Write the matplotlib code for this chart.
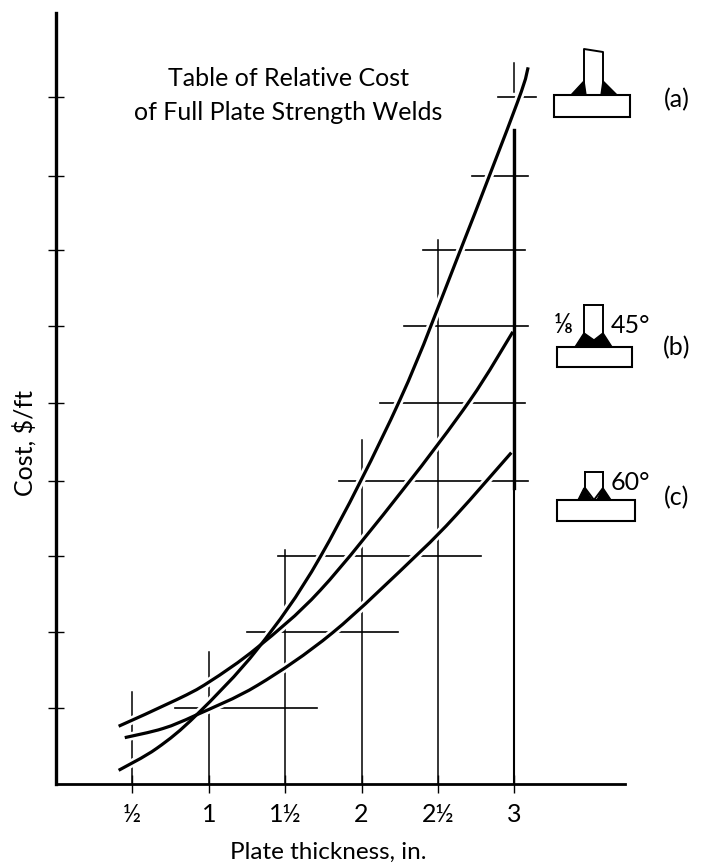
import matplotlib
matplotlib.use("Agg")
import matplotlib.pyplot as plt
from matplotlib.patches import Polygon, PathPatch
from matplotlib.path import Path

plt.rcParams['font.family'] = ['Lato', 'DejaVu Sans']

# curves: plate thickness (in) vs cost ($/ft)
thick_a = [0.41, 0.66, 0.92, 1.32, 1.73, 2.25, 2.64, 3.02, 3.09]
cost_a = [0.18, 0.47, 0.91, 1.78, 2.99, 5.05, 6.99, 8.97, 9.43]
thick_b = [0.41, 0.79, 1.00, 1.32, 1.73, 2.27, 2.71, 2.99]
cost_b = [0.76, 1.11, 1.34, 1.80, 2.55, 3.87, 5.05, 5.95]
thick_c = [0.45, 0.70, 0.92, 1.32, 1.81, 2.36, 2.62, 2.98]
cost_c = [0.61, 0.73, 0.91, 1.30, 1.99, 3.01, 3.54, 4.36]

x_ticks = [0.5, 1, 1.5, 2, 2.5, 3]
x_labels = ['½', '1', '1½', '2', '2½', '3']
y_ticks = [1, 2, 3, 3.99, 5.01, 6.03, 7.03, 8, 9.04]

# how far each grid line runs
v_tops = [1.21, 1.74, 3.08, 4.53, 7.16]
h_starts = [0.78, 1.25, 1.45, 1.85, 2.12, 2.28, 2.40, 2.72, 2.89]
h_ends = [1.71, 2.24, 2.78, 3.09, 3.07, 3.09, 3.07, 3.09, 3.14]


def smooth_path(xs, ys):
    # bezier through the read points so the curves have no corners
    verts = [(xs[0], ys[0])]
    codes = [Path.MOVETO]
    n = len(xs)
    for i in range(n - 1):
        x0, y0 = xs[max(i - 1, 0)], ys[max(i - 1, 0)]
        x1, y1 = xs[i], ys[i]
        x2, y2 = xs[i + 1], ys[i + 1]
        x3, y3 = xs[min(i + 2, n - 1)], ys[min(i + 2, n - 1)]
        verts += [(x1 + (x2 - x0) / 6, y1 + (y2 - y0) / 6),
                  (x2 - (x3 - x1) / 6, y2 - (y3 - y1) / 6),
                  (x2, y2)]
        codes += [Path.CURVE4] * 3
    return Path(verts, codes)


fig = plt.figure(figsize=(7.02, 8.63), dpi=100)
ax = fig.add_axes([56/702, (863-784)/863, (625-56)/702, (784-13)/863])
ax.set_xlim(0, 3.724)
ax.set_ylim(0, 10.145)

for s in ['top', 'right']:
    ax.spines[s].set_visible(False)
ax.spines['left'].set_linewidth(2.4)
ax.spines['bottom'].set_linewidth(2.0)

ax.set_xticks(x_ticks)
ax.set_xticklabels(x_labels, fontsize=18)
ax.set_yticks(y_ticks)
ax.set_yticklabels([])
ax.tick_params(axis='x', direction='inout', length=13, width=1.0, pad=7)
ax.tick_params(axis='y', direction='inout', length=11, width=1.0)

ax.set_xlabel('Plate thickness, in.', fontsize=17.5, va='center')
ax.xaxis.set_label_coords(0.478, -68/771)
ax.set_ylabel('Cost, $/ft', fontsize=18, va='center')
ax.yaxis.set_label_coords(-32/569, 0.442)

for xv, top in zip(x_ticks, v_tops):
    ax.plot([xv, xv], [0, top], color='black', lw=1.1, zorder=1)
for yv, x0, x1 in zip(y_ticks, h_starts, h_ends):
    ax.plot([x0, x1], [yv, yv], color='black', lw=1.2, zorder=1)

# white halo first so the grid breaks around the curves
for xs, ys in [(thick_a, cost_a), (thick_b, cost_b), (thick_c, cost_c)]:
    ax.add_patch(PathPatch(smooth_path(xs, ys), fill=False, ec='white', lw=6, zorder=2))

# the 3 in. line stays whole
ax.plot([3, 3], [0, 8.6], color='black', lw=1.5, zorder=2.5)
ax.plot([3, 3], [3.9, 8.6], color='black', lw=2.4, zorder=2.5)
ax.plot([3, 3], [9.1, 9.49], color='black', lw=1.1, zorder=2.5)

for xs, ys in [(thick_a, cost_a), (thick_b, cost_b), (thick_c, cost_c)]:
    ax.add_patch(PathPatch(smooth_path(xs, ys), fill=False, ec='black', lw=2.3, zorder=3))

# overlay in pixels for title and the weld sketches
ov = fig.add_axes([0, 0, 1, 1])
ov.set_xlim(0, 702)
ov.set_ylim(863, 0)
ov.axis('off')
ov.patch.set_alpha(0)

ov.text(288, 78, 'Table of Relative Cost', ha='center', va='center', fontsize=18)
ov.text(288, 112, 'of Full Plate Strength Welds', ha='center', va='center', fontsize=18)


def plate(x0, x1, y0, y1):
    ov.add_patch(Polygon([(x0, y0), (x1, y0), (x1, y1), (x0, y1)], closed=True,
                         fill=False, ec='black', lw=1.5))


# (a)
plate(554, 630, 95, 117)
ov.plot([584, 584, 603, 603], [95, 49, 52, 95], color='black', lw=1.4)
ov.add_patch(Polygon([(571, 95), (584, 81), (586, 95)], fc='black', ec='black'))
ov.add_patch(Polygon([(603, 81), (617, 95), (601, 95)], fc='black', ec='black'))
ov.text(677, 100, '(a)', ha='center', va='center', fontsize=18)

# (b)
plate(557, 632, 347, 367)
ov.plot([584, 584], [333, 305], color='black', lw=1.4)
ov.plot([603, 603], [333, 305], color='black', lw=1.4)
ov.plot([584, 603], [305, 305], color='black', lw=1.4)
ov.add_patch(Polygon([(575, 347), (584, 333), (594, 340), (603, 333), (612, 347)],
                     fc='black', ec='black'))
ov.text(563, 325, '⅛', ha='center', va='center', fontsize=19)
ov.text(630, 325, '45°', ha='center', va='center', fontsize=18)
ov.text(677, 348, '(b)', ha='center', va='center', fontsize=18)

# (c)
plate(557, 635, 500, 521)
ov.plot([585, 585, 594, 603, 603], [472, 488, 500, 488, 472], color='black', lw=1.4)
ov.plot([585, 603], [472, 472], color='black', lw=1.4)
ov.add_patch(Polygon([(578, 500), (584, 488), (592, 500)], fc='black', ec='black'))
ov.add_patch(Polygon([(597, 500), (603, 488), (611, 500)], fc='black', ec='black'))
ov.text(630, 482, '60°', ha='center', va='center', fontsize=18)
ov.text(677, 498, '(c)', ha='center', va='center', fontsize=18)

fig.savefig('out.png', dpi=100)
